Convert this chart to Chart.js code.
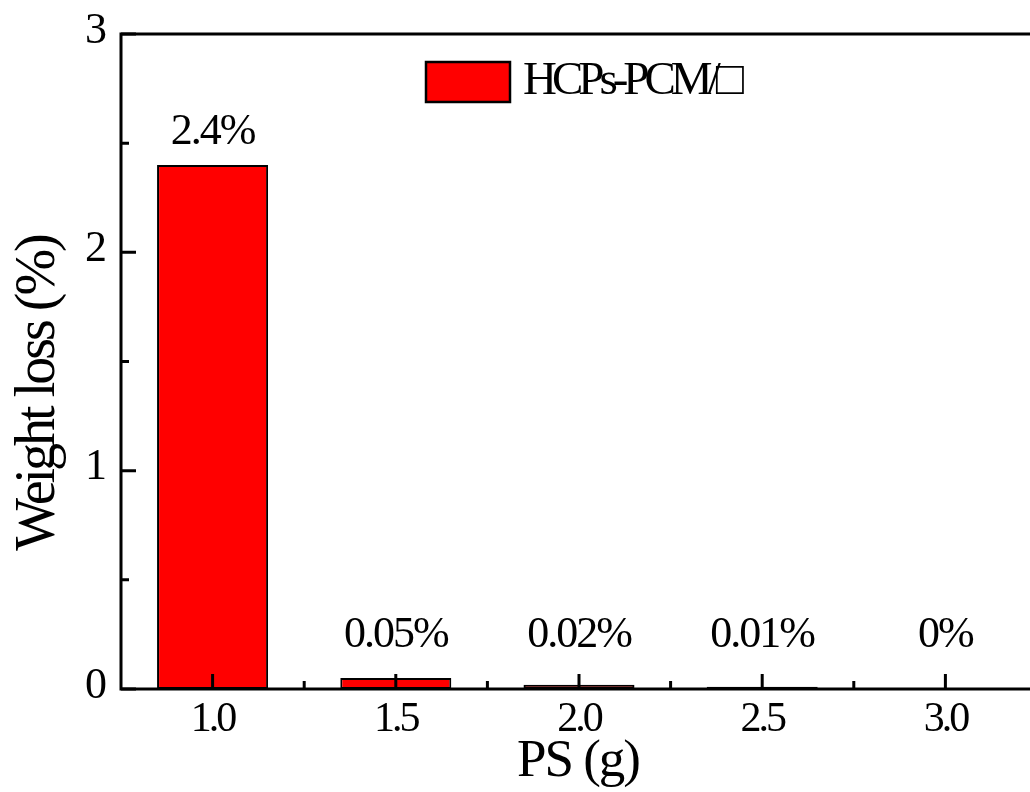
<!DOCTYPE html>
<html><head><meta charset="utf-8">
<script src="https://cdn.jsdelivr.net/npm/chart.js@4.4.1/dist/chart.umd.min.js"></script>
<style>
html,body{margin:0;padding:0;background:#fff;overflow:hidden;width:1030px;height:792px}
#wrap{width:1040px;height:792px;position:relative}
</style></head>
<body><div id="wrap"><canvas id="c" width="1040" height="792"></canvas></div>
<script>
const categories = ['1.0', '1.5', '2.0', '2.5', '3.0'];
const weightLoss = [2.4, 0.05, 0.02, 0.01, 0];
const valueLabels = ['2.4%', '0.05%', '0.02%', '0.01%', '0%'];
const yTicks = [0, 1, 2, 3];
const seriesName = 'HCPs-PCM/\u25A1';
const xTitle = 'PS (g)';
const yTitle = 'Weight loss (%)';
const FONT = '"Liberation Serif", "Times New Roman", serif';

const decor = {
  id: 'decor',
  beforeDraw(chart) { chart.ctx.letterSpacing = '-3px'; },
  afterDatasetsDraw(chart) {
    const { ctx, chartArea: a, scales: { x, y } } = chart;
    ctx.save();
    ctx.letterSpacing = '0px';
    ctx.strokeStyle = '#000';
    ctx.lineWidth = 3;
    ctx.lineJoin = 'miter';
    ctx.strokeRect(a.left, a.top, a.right - a.left, a.bottom - a.top);
    ctx.beginPath();
    const xp = categories.map((c, i) => x.getPixelForValue(i));
    xp.forEach(p => { ctx.moveTo(p, a.bottom); ctx.lineTo(p, a.bottom - 15); });
    for (let i = 0; i < xp.length - 1; i++) {
      const m = (xp[i] + xp[i + 1]) / 2;
      ctx.moveTo(m, a.bottom); ctx.lineTo(m, a.bottom - 8);
    }
    yTicks.forEach(v => { const p = y.getPixelForValue(v); ctx.moveTo(a.left, p); ctx.lineTo(a.left + 15, p); });
    for (let i = 0; i < yTicks.length - 1; i++) {
      const p = y.getPixelForValue((yTicks[i] + yTicks[i + 1]) / 2);
      ctx.moveTo(a.left, p); ctx.lineTo(a.left + 8, p);
    }
    ctx.stroke();

    const meta = chart.getDatasetMeta(0);
    const zeroY = y.getPixelForValue(0);
    ctx.fillStyle = '#000';
    ctx.font = '44px ' + FONT;
    ctx.letterSpacing = '-2px';
    ctx.textAlign = 'center';
    ctx.textBaseline = 'middle';
    meta.data.forEach((el, i) => {
      const ly = Math.min(el.y - 33, zeroY - 54);
      ctx.fillText(valueLabels[i], el.x, ly);
    });

    const ds = chart.data.datasets[0];
    const bx = a.left + 305, by = a.top + 28, bw = 84, bh = 40;
    ctx.fillStyle = ds.backgroundColor;
    ctx.fillRect(bx, by, bw, bh);
    ctx.lineWidth = 2.5;
    ctx.strokeStyle = '#000';
    ctx.strokeRect(bx, by, bw, bh);
    ctx.fillStyle = '#000';
    ctx.font = '47px ' + FONT;
    ctx.letterSpacing = '-5px';
    ctx.textAlign = 'left';
    ctx.fillText(ds.label, bx + bw + 13, by + bh / 2);

    ctx.textAlign = 'center';
    ctx.font = '53px ' + FONT;
    ctx.letterSpacing = '-2px';
    ctx.fillText(xTitle, (a.left + a.right) / 2 - 1, a.bottom + 73);
    ctx.save();
    ctx.translate(39, (a.top + a.bottom) / 2 + 32);
    ctx.rotate(-Math.PI / 2);
    ctx.font = '56px ' + FONT;
    ctx.letterSpacing = '-3px';
    ctx.fillText(yTitle, 0, 0);
    ctx.restore();
    ctx.restore();
  }
};

new Chart(document.getElementById('c'), {
  type: 'bar',
  data: {
    labels: categories,
    datasets: [{
      label: seriesName,
      data: weightLoss,
      backgroundColor: '#ff0000',
      borderColor: '#000000',
      borderWidth: 2,
      borderSkipped: false,
      barPercentage: 0.606,
      categoryPercentage: 1
    }]
  },
  options: {
    responsive: false,
    animation: false,
    devicePixelRatio: 1,
    layout: { padding: { top: 34, right: 3, left: 0, bottom: 0 } },
    plugins: { legend: { display: false }, tooltip: { enabled: false }, title: { display: false } },
    scales: {
      x: {
        grid: { display: false, drawTicks: false },
        border: { display: false },
        ticks: { font: { family: FONT, size: 42 }, color: '#000', padding: 6, maxRotation: 0, autoSkip: false },
        afterFit(s) { s.height = 103; s.paddingLeft = 0; s.paddingRight = 0; }
      },
      y: {
        min: 0, max: 3,
        grid: { display: false, drawTicks: false },
        border: { display: false },
        ticks: { stepSize: 1, font: { family: FONT, size: 44 }, color: '#000', padding: 17, labelOffset: -3, callback: v => String(v) },
        afterFit(s) { s.width = 121; s.paddingTop = 0; s.paddingBottom = 0; }
      }
    }
  },
  plugins: [decor]
});
</script>
</body></html>
